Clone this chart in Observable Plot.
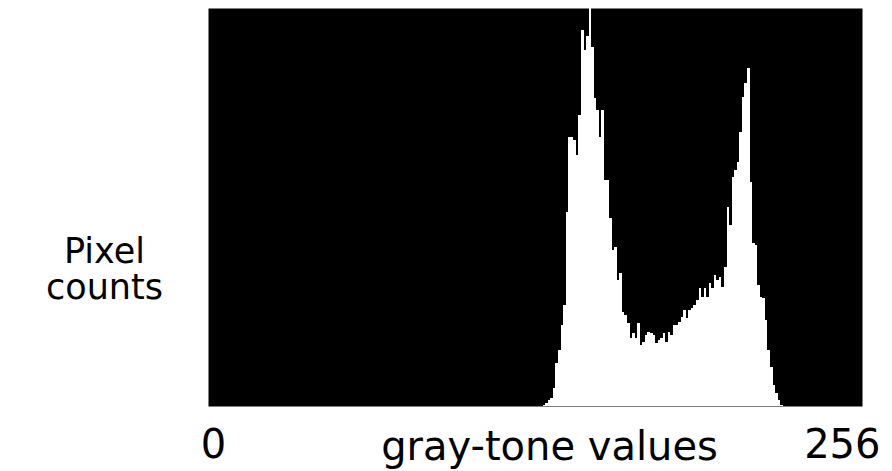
<!DOCTYPE html>
<html>
<head>
<meta charset="utf-8">
<script src="https://cdn.jsdelivr.net/npm/d3@7"></script>
<script src="https://cdn.jsdelivr.net/npm/@observablehq/plot@0.6"></script>
<style>
  html, body { margin: 0; padding: 0; background: #fff; }
  #chart svg { display: block; }
</style>
</head>
<body>
<div id="chart"></div>
<script>
// gray-tone bin (0..255) and its pixel count (arbitrary units)
const grayValues = [130,131,132,133,134,135,136,137,138,139,140,141,142,143,144,145,146,147,148,149,
  150,151,152,153,154,155,156,157,158,159,160,161,162,163,164,165,166,167,168,169,
  170,171,172,173,174,175,176,177,178,179,180,181,182,183,184,185,186,187,188,189,
  190,191,192,193,194,195,196,197,198,199,200,201,202,203,204,205,206,207,208,209,
  210,211,212,213,214,215,216,217,218,219,220,221,222,223,224,225];
const pixelCounts = [0,1,3,6,8,18,43,56,81,101,194,269,269,266,251,291,376,356,370,398,
  359,308,296,269,296,226,226,188,156,159,126,133,94,91,83,68,73,68,83,61,
  64,71,74,73,71,63,66,68,73,64,74,71,81,81,84,89,96,88,96,98,
  101,106,118,109,118,109,123,118,131,126,129,119,139,199,181,229,236,244,274,309,
  323,338,224,163,161,121,109,108,86,56,39,21,13,6,1,0];
const xTickValues = [0, 256];
const xTitle = "gray-tone values";
const yTitle = "Pixel\ncounts";
const yMax = 398;

const data = grayValues.map((g, i) => ({gray: g, count: pixelCounts[i]}));

const font = "DejaVu Sans, Verdana, sans-serif";

const chart = Plot.plot({
  width: 892,
  height: 471,
  marginLeft: 208,
  marginRight: 30,
  marginTop: 8,
  marginBottom: 65,
  style: {fontFamily: font, background: "white", overflow: "visible"},
  x: {domain: [0, 256], axis: null},
  y: {domain: [0, yMax], axis: null},
  marks: [
    Plot.frame({fill: "black", stroke: null}),
    Plot.rect(data, {
      x1: "gray",
      x2: d => d.gray + 1,
      y1: 0,
      y2: "count",
      fill: "white",
      inset: 0,
      shapeRendering: "crispEdges"
    }),
    Plot.text([xTickValues[0]], {
      x: d => d, frameAnchor: "bottom", text: d => String(d),
      textAnchor: "middle", lineAnchor: "bottom", dy: 51, dx: 5,
      fontSize: 40, fill: "black"
    }),
    Plot.text([xTickValues[1]], {
      x: d => d, frameAnchor: "bottom", text: d => String(d),
      textAnchor: "end", lineAnchor: "bottom", dy: 51, dx: 18,
      fontSize: 40, fill: "black"
    }),
    Plot.text([xTitle], {
      frameAnchor: "bottom", text: d => d,
      textAnchor: "middle", lineAnchor: "bottom", dy: 53, dx: 14,
      fontSize: 40, fill: "black"
    }),
    Plot.text([yTitle], {
      frameAnchor: "left", text: d => d,
      textAnchor: "middle", lineAnchor: "middle", dx: -104, dy: 62,
      fontSize: 35, lineHeight: 1.02, fill: "black"
    })
  ]
});
document.getElementById("chart").append(chart);
</script>
</body>
</html>
